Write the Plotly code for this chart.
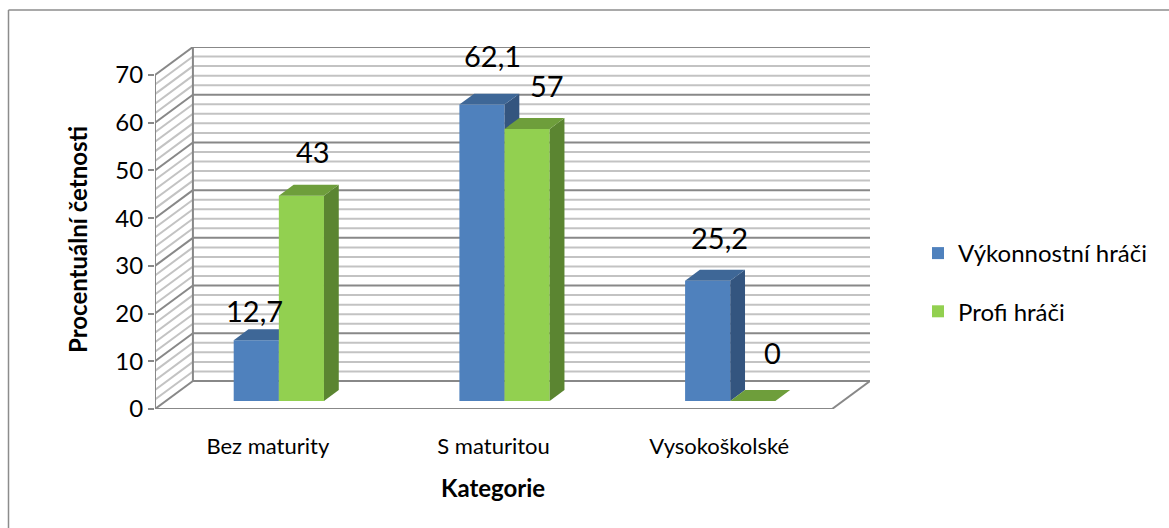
import plotly.graph_objects as go

# ---- data -------------------------------------------------------------
categories = ["Bez maturity", "S maturitou", "Vysokoškolské"]
series_names = ["Výkonnostní hráči", "Profi hráči"]
vykonnostni_hraci = [12.7, 62.1, 25.2]
profi_hraci = [43, 57, 0]
y_tick_values = [0, 10, 20, 30, 40, 50, 60, 70]

# ---- geometry of the pseudo-3D frame ----------------------------------
FONT = "Lato"
W, H = 1169, 528
L, R, T, B = 155, 870, 47, 409      # plot area in pixels
Y_MAX = 70
DX = 0.168                          # wall depth along x (category units)
DV = 5.87                           # wall depth along y (value units)
X0, X1 = -0.5, 2.5                  # front edge of the floor
T_FRONT, T_BACK = 0.29, 0.68        # depth slot occupied by the columns
BAR_W = 0.2

x_range = [X0, X1 + DX]
y_range = [0, Y_MAX + DV]


def paper_x(px):
    return (px - L) / (R - L)


def paper_y(py):
    return (B - py) / (B - T)


styles = [
    dict(front="#4F81BD", top="#3E6797", side="#34557F"),
    dict(front="#92D050", top="#6E9E3B", side="#5B8531"),
]

fig = go.Figure()


def segments_trace(segs, color, width):
    xs, ys = [], []
    for (xa, ya), (xb, yb) in segs:
        xs += [xa, xb, None]
        ys += [ya, yb, None]
    return go.Scatter(x=xs, y=ys, mode="lines", line=dict(color=color, width=width),
                      hoverinfo="skip", showlegend=False)


# back wall and left wall grid (minor every 2, major at the ticks)
minor = [v for v in range(0, Y_MAX + 1, 2) if v not in y_tick_values]
for levels, color in ((minor, "#C3C3C3"), (y_tick_values, "#888888")):
    segs = []
    for v in levels:
        segs.append(((X0 + DX, v + DV), (X1 + DX, v + DV)))
        segs.append(((X0, v), (X0 + DX, v + DV)))
    fig.add_trace(segments_trace(segs, color, 2))

# frame edges: front axis, back-wall edge, floor outline
frame = [
    ((X0, 0), (X0, Y_MAX)),
    ((X0 + DX, DV), (X0 + DX, Y_MAX + DV)),
    ((X0, 0), (X1, 0)),
    ((X1, 0), (X1 + DX, DV)),
]
fig.add_trace(segments_trace(frame, "#888888", 2))

# ---- columns: front faces as bars, top/side faces as filled polygons ---
base = T_FRONT * DV
bdx = (T_BACK - T_FRONT) * DX
bdv = (T_BACK - T_FRONT) * DV
all_series = [vykonnostni_hraci, profi_hraci]
bar_centers = []
for s, (name, vals, st) in enumerate(zip(series_names, all_series, styles)):
    xa, ya = "x%d" % (s + 2), "y%d" % (s + 2)
    shift = -BAR_W / 2 if s == 0 else BAR_W / 2
    centers = [i + T_FRONT * DX + shift for i in range(len(categories))]
    bar_centers.append(centers)
    fig.add_trace(go.Bar(
        x=centers, y=vals, base=base, width=BAR_W, name=name,
        marker=dict(color=st["front"], line=dict(width=0)),
        xaxis=xa, yaxis=ya, legendgroup=name, hoverinfo="skip",
    ))
    for c, v in zip(centers, vals):
        xl, xr = c - BAR_W / 2, c + BAR_W / 2
        top = base + v
        fig.add_trace(go.Scatter(
            x=[xr, xr + bdx, xr + bdx, xr, xr],
            y=[base, base + bdv, top + bdv, top, base],
            fill="toself", fillcolor=st["side"], mode="lines", line=dict(width=0),
            xaxis=xa, yaxis=ya, showlegend=False, hoverinfo="skip"))
        fig.add_trace(go.Scatter(
            x=[xl, xr, xr + bdx, xl + bdx, xl],
            y=[top, top, top + bdv, top + bdv, top],
            fill="toself", fillcolor=st["top"], mode="lines", line=dict(width=0),
            xaxis=xa, yaxis=ya, showlegend=False, hoverinfo="skip"))

# ---- value labels --------------------------------------------------------
label_nudge = [  # (dx, dy) in pixels from the top front of each column
    [(-2, -30), (11, -49), (12, -43)],
    [(12, -44), (20, -43), (20, -48)],
]
annotations = []
for s, vals in enumerate(all_series):
    for i, v in enumerate(vals):
        dx, dy = label_nudge[s][i]
        annotations.append(dict(
            x=bar_centers[s][i], y=base + v, xref="x", yref="y",
            text=("%g" % v).replace(".", ","), showarrow=False,
            xshift=dx, yshift=-dy, xanchor="center", yanchor="middle",
            font=dict(family=FONT, size=29, color="#000000")))

annotations.append(dict(
    x=paper_x(77), y=paper_y(240), xref="paper", yref="paper",
    xanchor="center", yanchor="middle",
    text="<b>Procentuální četnosti</b>", textangle=-90, showarrow=False,
    font=dict(family=FONT, size=24, color="#000000")))
annotations.append(dict(
    x=paper_x(493), y=paper_y(487), xref="paper", yref="paper",
    xanchor="center", yanchor="middle",
    text="<b>Kategorie</b>", showarrow=False,
    font=dict(family=FONT, size=24, color="#000000")))

# outer chart border (left and top edges)
shapes = [
    dict(type="line", xref="paper", yref="paper", layer="below",
         x0=paper_x(8.5), x1=paper_x(8.5), y0=paper_y(10), y1=paper_y(H + 5),
         line=dict(color="#8C8C8C", width=1.5)),
    dict(type="line", xref="paper", yref="paper", layer="below",
         x0=paper_x(8.5), x1=paper_x(W + 5), y0=paper_y(10), y1=paper_y(10),
         line=dict(color="#8C8C8C", width=1.5)),
]

hidden = dict(range=x_range, visible=False, fixedrange=True)
fig.update_layout(
    width=W, height=H, autosize=False,
    margin=dict(l=L, r=W - R, t=T, b=H - B, pad=0),
    paper_bgcolor="white", plot_bgcolor="rgba(0,0,0,0)",
    barmode="overlay", showlegend=True,
    font=dict(family=FONT, color="#000000"),
    xaxis=dict(range=x_range, showgrid=False, zeroline=False, showline=False,
               tickvals=list(range(len(categories))), ticktext=categories,
               ticks="", ticklabelstandoff=22, fixedrange=True,
               tickfont=dict(family=FONT, size=22, color="#000000")),
    yaxis=dict(range=y_range, showgrid=False, zeroline=False, showline=False,
               tickvals=y_tick_values, ticks="outside", ticklen=6, tickwidth=2,
               tickcolor="#888888", fixedrange=True,
               tickfont=dict(family=FONT, size=24, color="#000000")),
    xaxis2=dict(overlaying="x", **hidden),
    yaxis2=dict(overlaying="y", range=y_range, visible=False, fixedrange=True),
    xaxis3=dict(overlaying="x", **hidden),
    yaxis3=dict(overlaying="y", range=y_range, visible=False, fixedrange=True),
    legend=dict(x=paper_x(918), y=paper_y(231), xanchor="left", yanchor="top",
                font=dict(family=FONT, size=24, color="#000000"),
                tracegroupgap=24, bgcolor="rgba(0,0,0,0)", borderwidth=0),
    annotations=annotations, shapes=shapes,
)

fig.write_html("out.html")
